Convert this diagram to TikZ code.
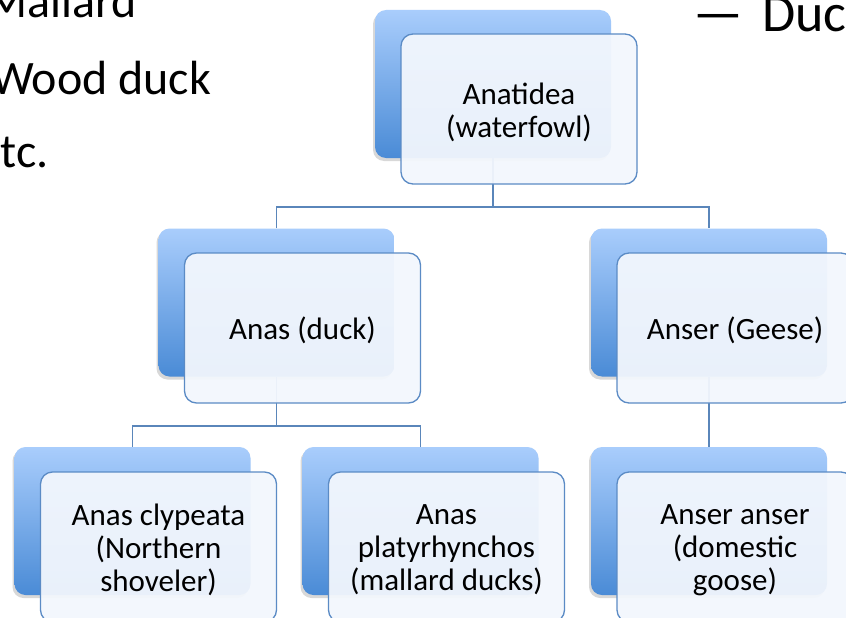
\documentclass[tikz,border=0pt]{standalone}
\usepackage{fontspec}
\setmainfont{Carlito}
\usetikzlibrary{shadows}
\definecolor{backtop}{HTML}{A9CDFC}
\definecolor{backbot}{HTML}{4A8BD6}
\definecolor{frontfill}{HTML}{F3F7FD}
\definecolor{edgecol}{HTML}{5B8BC5}
\definecolor{conncol}{HTML}{5A86BA}
\tikzset{
  backbox/.style={rectangle, rounded corners=11pt, top color=backtop, bottom color=backbot,
    draw=none, minimum width=236pt, minimum height=148pt, inner sep=0pt,
    drop shadow={shadow xshift=-2pt, shadow yshift=-3pt, opacity=0.3}},
  frontbox/.style={rectangle, rounded corners=12pt, fill=frontfill, fill opacity=0.94,
    draw=edgecol, line width=1.3pt, minimum width=236pt, minimum height=150pt, inner sep=0pt},
  flabel/.style={align=center, inner sep=0pt, font=\fontsize{31}{33}\selectfont},
  conn/.style={draw=conncol, line width=1.4pt},
  bgtext/.style={anchor=base west, inner sep=0pt, font=\fontsize{48}{58}\selectfont}
}
\begin{document}
\begin{tikzpicture}[x=1pt, y=-1pt]
\useasboundingbox (0,0) rectangle (846,618);
\clip (0,0) rectangle (846,618);
\fill[white] (0,0) rectangle (846,618);
% background slide text
\node[bgtext] (t1) at (-14,18) {Mallard};
\node[bgtext] (t2) at (-9,95) {Wood duck};
\node[bgtext] (t3) at (-23,167) {etc.};
\node[bgtext, font=\fontsize{55}{65}\selectfont] (t4) at (693.5,32) {—};
\node[bgtext, font=\fontsize{54}{64}\selectfont] (t5) at (762,32) {Duck};
% back boxes
\node[backbox] (b1) at (493,84) {};
\node[backbox] (b2) at (276.5,302.5) {};
\node[backbox] (b3) at (709,302.5) {};
\node[backbox] (b4) at (132.5,521) {};
\node[backbox] (b5) at (420.5,521) {};
\node[backbox] (b6) at (709,521) {};
% connectors
\coordinate (j1) at (493,207);
\coordinate (j2) at (276.5,426);
\draw[conn] (b1.south) -- (j1);
\draw[conn] (b2.north) |- (j1) -| (b3.north);
\draw[conn] (b2.south) -- (j2);
\draw[conn] (b4.north) |- (j2) -| (b5.north);
\draw[conn] (b3.south) -- (b6.north);
% front boxes
\node[frontbox] (f1) at (519,109) {};
\node[frontbox] (f2) at (302.5,328) {};
\node[frontbox] (f3) at (735,328) {};
\node[frontbox] (f4) at (158.5,547) {};
\node[frontbox] (f5) at (446.5,547) {};
\node[frontbox] (f6) at (735,547) {};
% labels
\node[flabel] (l1) at ([yshift=-3pt]f1.center) {Anatidea\\(waterfowl)};
\node[flabel] (l2) at ([yshift=-2pt]f2.center) {Anas (duck)};
\node[flabel] (l3) at ([yshift=-2pt]f3.center) {Anser (Geese)};
\node[flabel] (l4) at ([yshift=-3pt]f4.center) {Anas clypeata\\(Northern\\shoveler)};
\node[flabel] (l5) at ([yshift=-3pt]f5.center) {Anas\\platyrhynchos\\(mallard ducks)};
\node[flabel] (l6) at ([yshift=-3pt]f6.center) {Anser anser\\(domestic\\goose)};
\end{tikzpicture}
\end{document}
